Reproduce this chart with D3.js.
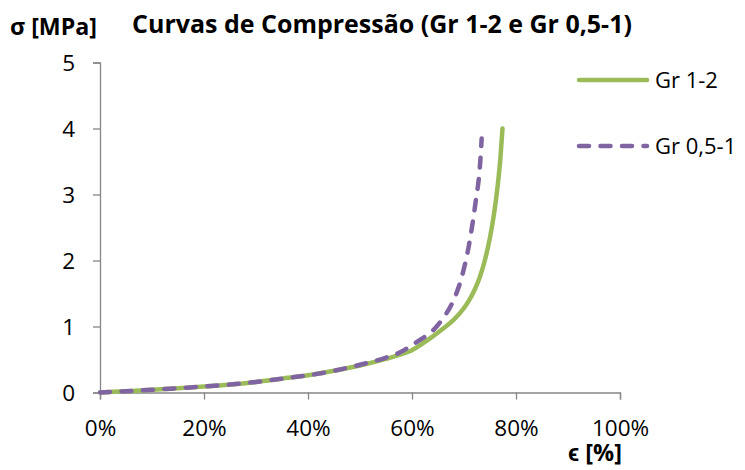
<!DOCTYPE html>
<html><head><meta charset="utf-8">
<script src="https://cdn.jsdelivr.net/npm/d3@7"></script>
<style>body{margin:0;background:#fff}svg{display:block}text{font-family:"Open Sans",sans-serif;fill:#000}</style>
</head><body>
<svg id="c" width="745" height="470"></svg>
<script>
// Data (strain in %, stress in MPa)
const gr12Strain = [0, 5, 10, 15, 20, 25, 30, 35, 40, 45, 50, 55, 58, 60, 62, 64, 66, 68, 70, 71, 72, 73, 74, 75, 75.8, 76.5, 77, 77.4];
const gr12Stress = [0, 0.02, 0.04, 0.065, 0.09, 0.12, 0.16, 0.21, 0.26, 0.33, 0.41, 0.51, 0.58, 0.64, 0.74, 0.85, 0.97, 1.1, 1.28, 1.4, 1.55, 1.74, 2.0, 2.35, 2.72, 3.15, 3.55, 4.0];
const gr051Strain = [0, 5, 10, 15, 20, 25, 30, 35, 40, 45, 50, 55, 58, 60, 62, 63.9, 66, 67.7, 69.6, 70.9, 72.2, 73.1, 73.4];
const gr051Stress = [0, 0.02, 0.04, 0.065, 0.09, 0.12, 0.16, 0.21, 0.26, 0.33, 0.42, 0.53, 0.62, 0.72, 0.82, 0.93, 1.13, 1.35, 1.76, 2.21, 2.87, 3.47, 3.85];
const xTicks = [0, 20, 40, 60, 80, 100];
const yTicks = [0, 1, 2, 3, 4, 5];
const seriesNames = ["Gr 1-2", "Gr 0,5-1"];
const colors = ["#9BBB59", "#8064A2"];

const svg = d3.select("#c");
const x = d3.scaleLinear().domain([0, 100]).range([100, 620]);
const y = d3.scaleLinear().domain([0, 5]).range([392.5, 62.5]);
const axisColor = "#868686";

function fit(sel, w) {
  const n = sel.node();
  const fs = parseFloat(sel.attr("font-size"));
  const L = n.getComputedTextLength();
  sel.attr("font-size", (fs * w / L).toFixed(2));
}

// Axes
const xAxis = svg.append("g").attr("transform", `translate(0,${y(0)})`)
  .call(d3.axisBottom(x).tickValues(xTicks).tickSize(7).tickFormat(d => d + "%"));
const yAxis = svg.append("g").attr("transform", `translate(${x(0)},0)`)
  .call(d3.axisLeft(y).tickValues(yTicks).tickSize(7).tickFormat(d3.format("d")));
[xAxis, yAxis].forEach(g => {
  g.selectAll("path.domain").attr("stroke", axisColor).attr("stroke-width", 1.3);
  g.selectAll(".tick line").attr("stroke", axisColor).attr("stroke-width", 1.3);
  g.selectAll(".tick text").attr("font-family", '"Open Sans",sans-serif').attr("font-size", 22.5).attr("fill", "#000");
});
xAxis.selectAll(".tick text").attr("y", 0).attr("dy", 0).attr("transform", "translate(0,43.5)");
yAxis.selectAll(".tick text").attr("x", -25).attr("dy", "0.36em");

// Lines
const line = d3.line().x(d => x(d[0])).y(d => y(d[1])).curve(d3.curveMonotoneX);
const s1 = gr12Strain.map((v, i) => [v, gr12Stress[i]]);
const s2 = gr051Strain.map((v, i) => [v, gr051Stress[i]]);
svg.append("path").datum(s1).attr("d", line).attr("fill", "none")
  .attr("stroke", colors[0]).attr("stroke-width", 4.5).attr("stroke-linecap", "round").attr("stroke-linejoin", "round");
svg.append("path").datum(s2).attr("d", line).attr("fill", "none")
  .attr("stroke", colors[1]).attr("stroke-width", 4.5).attr("stroke-linecap", "round")
  .attr("stroke-dasharray", "10,11.5");

// Legend
const lg = [80, 146];
seriesNames.forEach((nm, i) => {
  svg.append("line").attr("x1", 579).attr("x2", 647).attr("y1", lg[i]).attr("y2", lg[i])
    .attr("stroke", colors[i]).attr("stroke-width", 4.5).attr("stroke-linecap", "round")
    .attr("stroke-dasharray", i === 1 ? "10,11.5" : null);
  svg.append("text").attr("x", 655).attr("y", lg[i]).attr("dy", "0.36em")
    .attr("font-size", 22).text(nm);
});

// Titles
const t = svg.append("text").attr("x", 382).attr("y", 33).attr("text-anchor", "middle")
  .attr("font-weight", "bold").attr("font-size", 22).text("Curvas de Compressão (Gr 1-2 e Gr 0,5-1)");
fit(t, 500);
const yl = svg.append("text").attr("x", 10).attr("y", 35)
  .attr("font-weight", "bold").attr("font-size", 20).text("σ [MPa]");
fit(yl, 87);
const xl = svg.append("text").attr("x", 568).attr("y", 461)
  .attr("font-weight", "bold").attr("font-size", 20).text("ϵ [%]");
fit(xl, 54);
</script>
</body></html>
